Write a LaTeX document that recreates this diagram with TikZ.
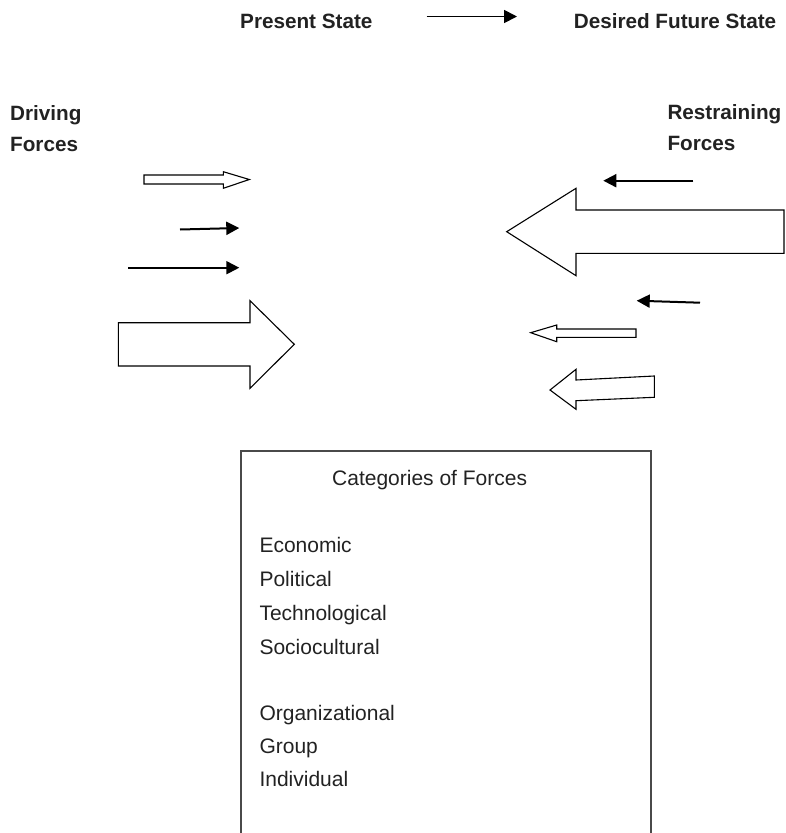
\documentclass[tikz,border=0pt]{standalone}
\usepackage{fontspec}
\setmainfont{Liberation Sans}
\usetikzlibrary{arrows.meta}
\definecolor{ink}{HTML}{222222}
\definecolor{frame}{HTML}{4A4A4A}
\tikzset{
  heading/.style={anchor=base west, inner sep=0pt, text=ink,
    font=\fontsize{20.7}{24}\selectfont\bfseries},
  item/.style={anchor=base west, inner sep=0pt, text=ink,
    font=\fontsize{21}{24}\selectfont},
  thinforce/.style={line width=2pt, -{Triangle[length=13pt,width=13pt]}},
  blockforce/.style={draw=black, line width=1.1pt, fill=white, line join=miter},
  boxline/.style={draw=frame, line width=2pt}
}
\begin{document}
\begin{tikzpicture}[x=1pt, y=-1pt]
\useasboundingbox (0,0) rectangle (785,833);
\clip (0,0) rectangle (785,833);

% header: present state -> desired future state
\node[heading] (present) at (240,28.3) {Present State};
\node[heading] (desired) at (573.6,28.3) {Desired Future State};
\coordinate (flowA) at (426.7,16.5);
\coordinate (flowB) at (517,16.5);
\draw[thinforce, line width=1.8pt] (flowA) -- (flowB);

% side headings
\node[heading] (drive1) at (10,120.7) {Driving};
\node[heading] (drive2) at (10,151) {Forces};
\node[heading] (restr1) at (667.3,119.3) {Restraining};
\node[heading] (restr2) at (667.3,150) {Forces};

% driving forces (pointing right)
\draw[blockforce] (144,175) -- (223.3,175) -- (223.3,171.7) -- (249.3,179.5)
  -- (223.3,188.3) -- (223.3,184) -- (144,184) -- cycle;
\coordinate (d2a) at (180,229.5);
\coordinate (d2b) at (239.3,228);
\draw[thinforce] (d2a) -- (d2b);
\coordinate (d3a) at (128.3,267.7);
\coordinate (d3b) at (239.3,267.7);
\draw[thinforce] (d3a) -- (d3b);
\draw[blockforce] (118.3,322.7) -- (250,322.7) -- (250,300.7) -- (294.3,344.3)
  -- (250,388.3) -- (250,366) -- (118.3,366) -- cycle;

% restraining forces (pointing left)
\coordinate (r1a) at (693.3,180.7);
\coordinate (r1b) at (603.3,180.7);
\draw[thinforce] (r1a) -- (r1b);
\draw[blockforce] (506.7,231.7) -- (576,188.3) -- (576,210) -- (784,210)
  -- (784,253.3) -- (576,253.3) -- (576,275.7) -- cycle;
\coordinate (r3a) at (700,302.7);
\coordinate (r3b) at (636.7,300.7);
\draw[thinforce] (r3a) -- (r3b);
\draw[blockforce] (530.7,332.7) -- (556.7,325) -- (556.7,329) -- (636,329)
  -- (636,337.3) -- (556.7,337.3) -- (556.7,341.7) -- cycle;
\draw[blockforce] (550,390) -- (576,369.3) -- (576,380) -- (654.3,376)
  -- (654.3,397.3) -- (576,400.7) -- (576,409.3) -- cycle;

% categories box (runs off the bottom edge)
\draw[boxline] (241,845) -- (241,451) -- (651,451) -- (651,845);
\node[item] (cat) at (332,485.7) {Categories of Forces};
\node[item] (c1) at (259.3,552.7) {Economic};
\node[item] (c2) at (259.3,586.7) {Political};
\node[item] (c3) at (259.3,620.3) {Technological};
\node[item] (c4) at (259.3,654) {Sociocultural};
\node[item] (c5) at (259.3,720.7) {Organizational};
\node[item] (c6) at (259.3,753.7) {Group};
\node[item] (c7) at (259.3,786.7) {Individual};
\end{tikzpicture}
\end{document}
